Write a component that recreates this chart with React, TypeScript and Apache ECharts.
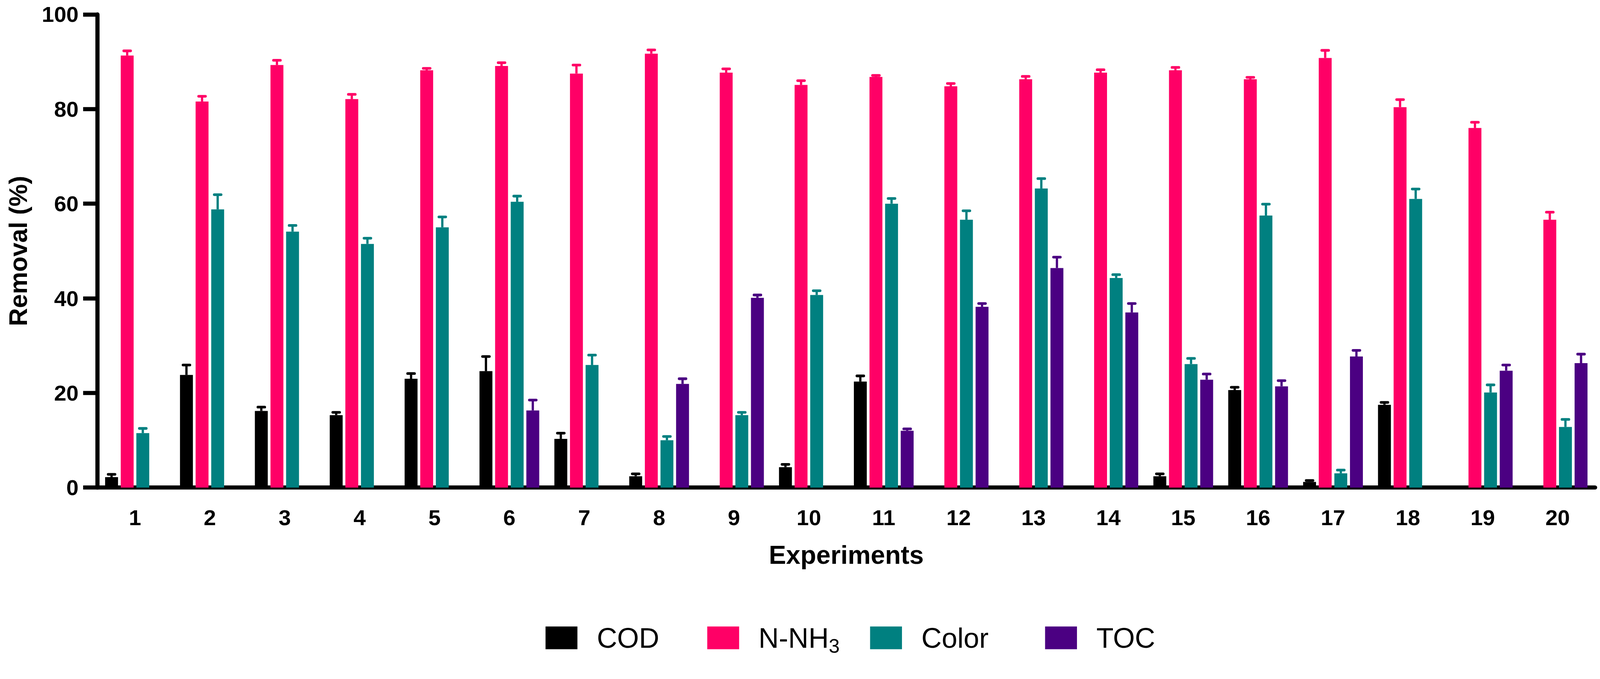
import React, { useEffect, useRef, useState } from "react";
import * as echarts from "echarts";

const categories = ["1", "2", "3", "4", "5", "6", "7", "8", "9", "10", "11", "12", "13", "14", "15", "16", "17", "18", "19", "20"];
const seriesNames = ["COD", "N-NH3", "Color", "TOC"];
const yTicks = [0, 20, 40, 60, 80, 100];

const codValues = [2.2, 23.8, 16.2, 15.3, 23.0, 24.6, 10.3, 2.4, null, 4.3, 22.4, null, null, null, 2.4, 20.6, 1.2, 17.5, null, null];
const codErrors = [0.6, 2.1, 0.8, 0.6, 1.1, 3.1, 1.2, 0.5, null, 0.6, 1.2, null, null, null, 0.5, 0.6, 0.3, 0.5, null, null];

const nh3Values = [91.3, 81.6, 89.3, 82.1, 88.2, 89.1, 87.5, 91.7, 87.7, 85.1, 86.8, 84.8, 86.3, 87.7, 88.2, 86.3, 90.8, 80.4, 76.0, 56.6];
const nh3Errors = [1.0, 1.1, 1.0, 1.0, 0.4, 0.7, 1.8, 0.8, 0.8, 0.9, 0.3, 0.6, 0.6, 0.6, 0.6, 0.4, 1.6, 1.6, 1.2, 1.6];

const colorValues = [11.5, 58.8, 54.1, 51.5, 55.0, 60.4, 25.9, 10.0, 15.3, 40.7, 60.0, 56.6, 63.2, 44.3, 26.1, 57.5, 3.0, 61.0, 20.1, 12.8];
const colorErrors = [1.0, 3.1, 1.3, 1.2, 2.2, 1.2, 2.1, 0.8, 0.6, 0.9, 1.1, 1.9, 2.1, 0.7, 1.2, 2.4, 0.7, 2.1, 1.6, 1.6];

const tocValues = [null, null, null, null, null, 16.3, null, 21.9, 40.1, null, 12.0, 38.2, 46.4, 37.0, 22.8, 21.4, 27.7, null, 24.7, 26.3];
const tocErrors = [null, null, null, null, null, 2.2, null, 1.1, 0.6, null, 0.4, 0.7, 2.3, 1.9, 1.2, 1.2, 1.3, null, 1.2, 1.9];

const FONT = "'Liberation Sans', Arial, Helvetica, sans-serif";
const BASE_W = 4215;
const BASE_H = 1739;

export default function App() {
  const ref = useRef<HTMLDivElement>(null);
  const [size] = useState(() => {
    const w = typeof window !== "undefined" && window.innerWidth ? window.innerWidth : BASE_W;
    const h = typeof window !== "undefined" && window.innerHeight ? window.innerHeight : BASE_H;
    return { w, h };
  });

  useEffect(() => {
    document.body.style.margin = "0";
    document.body.style.overflow = "hidden";
    if (!ref.current) return;
    const chart = echarts.init(ref.current, null, { renderer: "svg" });
    const s = Math.min(size.w / BASE_W, size.h / BASE_H);
    const p = (v: number) => v * s;

    const values = [codValues, nh3Values, colorValues, tocValues];
    const errors = [codErrors, nh3Errors, colorErrors, tocErrors];
    const colors = ["#000000", "#FF0066", "#008080", "#4B0082"];
    const barWidth = p(34);
    const barGapRatio = 0.21;
    const step = barWidth * (1 + barGapRatio);

    const barSeries = seriesNames.map((name, i) => ({
      type: "bar",
      name,
      data: values[i],
      barWidth,
      barGap: "21%",
      itemStyle: { color: colors[i] },
      z: 2,
    }));

    const errSeries = seriesNames.map((name, i) => {
      const data: number[][] = [];
      values[i].forEach((v, ci) => {
        const e = errors[i][ci];
        if (v !== null && e !== null) data.push([ci, v as number, e as number]);
      });
      const offset = (i - 1.5) * step;
      return {
        type: "custom",
        name: name + " error",
        data,
        encode: { x: 0, y: 1 },
        z: 3,
        renderItem: (params: any, api: any) => {
          const ci = api.value(0);
          const v = api.value(1);
          const e = api.value(2);
          const base = api.coord([ci, v]);
          const top = api.coord([ci, v + e]);
          const x = base[0] + offset;
          return {
            type: "group",
            children: [
              {
                type: "line",
                shape: { x1: x, y1: base[1], x2: x, y2: top[1] },
                style: { stroke: colors[i], lineWidth: p(6) },
              },
              {
                type: "line",
                shape: { x1: x - p(9), y1: top[1], x2: x + p(9), y2: top[1] },
                style: { stroke: colors[i], lineWidth: p(7), lineCap: "round" },
              },
            ],
          };
        },
      };
    });

    const legendLefts = [1432, 1858, 2287, 2748];

    const option: any = {
      animation: false,
      backgroundColor: "#ffffff",
      textStyle: { fontFamily: FONT },
      grid: { left: p(257), right: size.w - p(4202), top: p(38), bottom: size.h - p(1285), containLabel: false },
      legend: seriesNames.map((n, i) => ({
        data: [n],
        left: p(legendLefts[i]),
        top: p(1628),
        itemWidth: p(84),
        itemHeight: p(60),
        icon: "rect",
        selectedMode: false,
        formatter: (name: string) => (name === "N-NH3" ? "N-NH{sub|3}" : name),
        textStyle: {
          fontFamily: FONT,
          fontSize: p(74),
          color: "#000",
          lineHeight: p(96),
          padding: [0, 0, 0, p(46)],
          rich: {
            sub: {
              fontFamily: FONT,
              fontSize: p(52),
              lineHeight: p(52),
              color: "#000",
              verticalAlign: "bottom",
            },
          },
        },
      })),
      xAxis: {
        type: "category",
        data: categories,
        name: "Experiments",
        nameLocation: "middle",
        nameGap: p(143),
        nameTextStyle: { fontFamily: FONT, fontSize: p(68), fontWeight: "bold", color: "#000" },
        axisLine: { lineStyle: { color: "#000", width: p(11) } },
        axisTick: { alignWithLabel: true, length: p(40), lineStyle: { color: "#000", width: p(11) } },
        axisLabel: { fontFamily: FONT, fontSize: p(58), fontWeight: "bold", color: "#000", margin: p(50) },
        splitLine: { show: false },
      },
      yAxis: {
        type: "value",
        min: yTicks[0],
        max: yTicks[yTicks.length - 1],
        interval: 20,
        name: "Removal (%)",
        nameLocation: "middle",
        nameGap: p(176),
        nameTextStyle: { fontFamily: FONT, fontSize: p(66), fontWeight: "bold", color: "#000" },
        axisLine: { show: true, lineStyle: { color: "#000", width: p(11) } },
        axisTick: { show: true, length: p(38), lineStyle: { color: "#000", width: p(11) } },
        axisLabel: { fontFamily: FONT, fontSize: p(58), fontWeight: "bold", color: "#000", margin: p(50) },
        splitLine: { show: false },
      },
      series: [...barSeries, ...errSeries],
    };

    chart.setOption(option);
    return () => chart.dispose();
  }, [size]);

  return <div ref={ref} style={{ width: size.w, height: size.h }} />;
}
